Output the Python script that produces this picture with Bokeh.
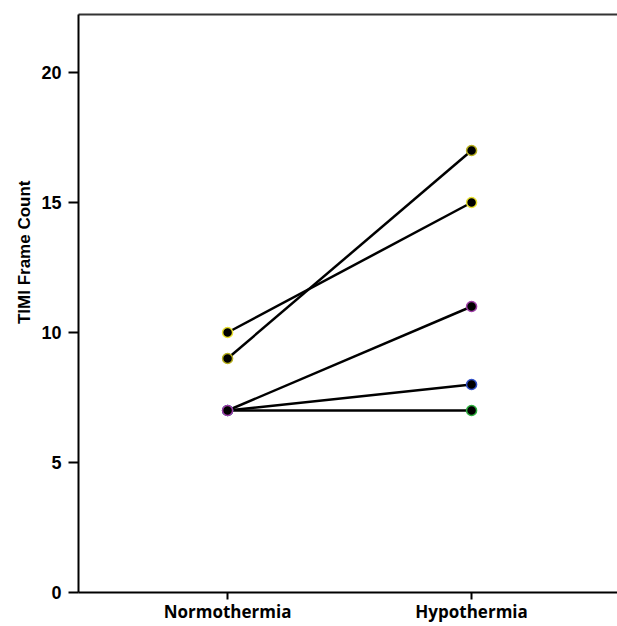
from bokeh.plotting import figure
from bokeh.models import Range1d, FixedTicker, LinearAxis, Title
from bokeh.embed import file_html
from bokeh.resources import INLINE

categories = ["Normothermia", "Hypothermia"]
normothermia = [10, 9, 7, 7, 7]
hypothermia = [15, 17, 7, 8, 11]
ring_colors = ["#e8e030", "#b8b020", "#30b040", "#3050c8", "#a040a8"]
y_ticks = [0, 5, 10, 15, 20]

p = figure(width=617, height=626, output_backend="svg", toolbar_location=None,
           x_range=Range1d(-0.611, 1.598), y_range=Range1d(0, 22.23),
           min_border_left=78, min_border_right=0, min_border_top=14, min_border_bottom=34)
p.outline_line_color = None
p.grid.visible = False
p.background_fill_color = "white"

xs = list(range(len(categories)))
for a, b in zip(normothermia, hypothermia):
    p.line(xs, [a, b], line_color="black", line_width=2.5)
for a, b, c in zip(normothermia, hypothermia, ring_colors):
    p.scatter(xs, [a, b], size=10, fill_color="black", line_color=c, line_width=1.5)

p.xaxis.ticker = FixedTicker(ticks=xs)
p.xaxis.major_label_overrides = {i: c for i, c in enumerate(categories)}
p.xaxis.major_label_text_font = "Open Sans"
p.xaxis.major_label_text_font_style = "bold"
p.xaxis.major_label_text_font_size = "17px"
p.xaxis.major_label_text_color = "black"
p.xaxis.major_tick_in = 0
p.xaxis.major_tick_out = 7
p.xaxis.minor_tick_line_color = None
p.xaxis.axis_line_width = 2
p.xaxis.major_tick_line_width = 2
p.xaxis.major_label_standoff = 0

p.yaxis.ticker = FixedTicker(ticks=y_ticks)
p.yaxis.major_label_text_font = "Liberation Sans"
p.yaxis.major_label_text_font_style = "bold"
p.yaxis.major_label_text_font_size = "18px"
p.yaxis.major_label_text_color = "black"
p.yaxis.major_tick_in = 0
p.yaxis.major_tick_out = 10
p.yaxis.minor_tick_line_color = None
p.yaxis.axis_line_width = 2
p.yaxis.major_tick_line_width = 2
p.yaxis.major_label_standoff = 7

top = LinearAxis(ticker=FixedTicker(ticks=[]), major_label_text_font_size="0px",
                 major_tick_out=0, major_tick_in=0, minor_tick_line_color=None,
                 axis_line_width=2, axis_line_color="#333333")
p.add_layout(top, "above")

ttl = Title(text="TIMI Frame Count", align="right", offset=166, standoff=10,
            text_font="Liberation Sans", text_font_style="bold",
            text_font_size="17px", text_color="black")
p.add_layout(ttl, "left")

open("out.html", "w").write(file_html(p, INLINE))
